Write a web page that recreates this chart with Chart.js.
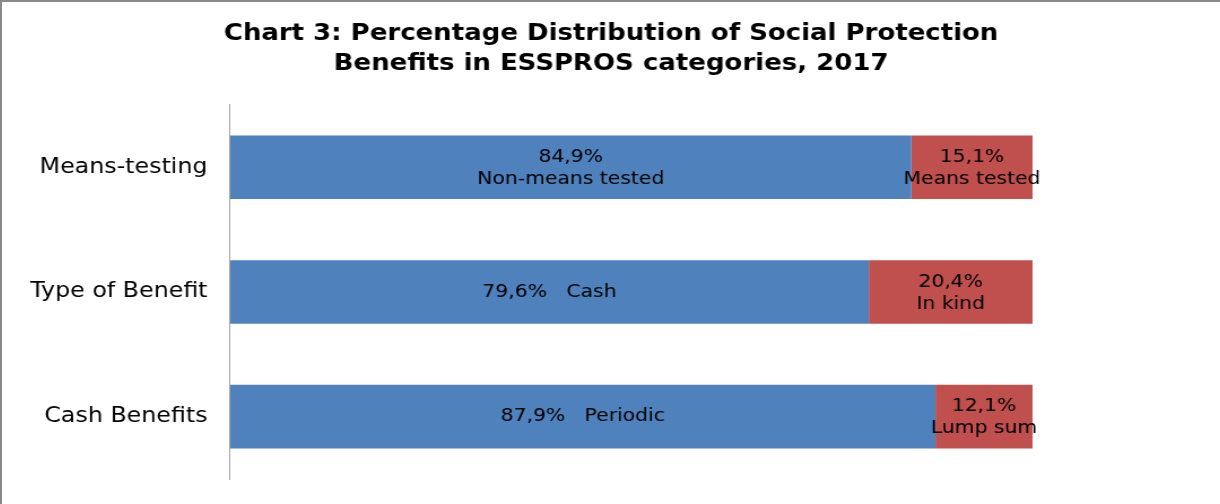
<!DOCTYPE html>
<html>
<head>
<meta charset="utf-8">
<script src="https://cdn.jsdelivr.net/npm/chart.js@4"></script>
<style>
  html, body { margin: 0; padding: 0; background: #fff; overflow: hidden; }
  #wrap {
    position: absolute; left: 0; top: 0;
    width: 1218px; height: 502px;
    border-left: 2px solid #8a8a8a;
    border-top: 2px solid #8a8a8a;
    overflow: hidden;
  }
  /* the chart is laid out a bit narrower and then widened, like the exported sheet */
  #chart {
    transform: scaleX(1.13);
    transform-origin: 0 0;
  }
</style>
</head>
<body>
<div id="wrap"><canvas id="chart" width="1078" height="502"></canvas></div>
<script>
// ESSPROS breakdowns, shares in percent
const categories = ['Means-testing', 'Type of Benefit', 'Cash Benefits'];
const firstShare = [84.9, 79.6, 87.9];
const secondShare = [15.1, 20.4, 12.1];
const firstNames = ['Non-means tested', 'Cash', 'Periodic'];
const secondNames = ['Means tested', 'In kind', 'Lump sum'];
// labels that sit on one line next to the value instead of below it
const firstInline = [false, true, true];
const secondInline = [false, false, false];

const fmt = v => v.toFixed(1).replace('.', ',') + '%';

// draws "value + name" inside every segment
const segmentLabels = {
  id: 'segmentLabels',
  afterDatasetsDraw(chart) {
    const ctx = chart.ctx;
    ctx.save();
    ctx.fillStyle = '#000';
    ctx.font = '18px "DejaVu Sans"';
    ctx.textAlign = 'center';
    ctx.textBaseline = 'middle';
    chart.data.datasets.forEach((ds, di) => {
      const meta = chart.getDatasetMeta(di);
      meta.data.forEach((bar, i) => {
        const p = bar.getCenterPoint();
        const val = fmt(ds.data[i]);
        const name = ds.names[i];
        if (ds.inline[i]) {
          ctx.fillText(val + '   ' + name, p.x, p.y);
        } else {
          ctx.fillText(val, p.x, p.y - 10);
          ctx.fillText(name, p.x, p.y + 12);
        }
      });
    });
    ctx.restore();
  }
};

// keep the title centred on the whole canvas, not on the padded area
const centreTitle = {
  id: 'centreTitle',
  afterLayout(chart) {
    const t = chart.titleBlock;
    if (t) {
      t.left = 0;
      t.right = chart.width;
      t.width = chart.width;
    }
  }
};

new Chart(document.getElementById('chart'), {
  type: 'bar',
  data: {
    labels: categories,
    datasets: [
      {
        label: 'first',
        data: firstShare,
        names: firstNames,
        inline: firstInline,
        backgroundColor: '#4f81bd',
        categoryPercentage: 1,
        barPercentage: 0.51
      },
      {
        label: 'second',
        data: secondShare,
        names: secondNames,
        inline: secondInline,
        backgroundColor: '#c0504d',
        categoryPercentage: 1,
        barPercentage: 0.51
      }
    ]
  },
  options: {
    indexAxis: 'y',
    responsive: false,
    animation: false,
    devicePixelRatio: 1,
    layout: { padding: { left: 5, right: 166, top: 0, bottom: 25 } },
    plugins: {
      legend: { display: false },
      tooltip: { enabled: false },
      title: {
        display: true,
        text: ['Chart 3: Percentage Distribution of Social Protection', 'Benefits in ESSPROS categories, 2017'],
        color: '#000',
        font: { family: '"DejaVu Sans"', size: 23, weight: 'bold', lineHeight: 1.31 },
        padding: { top: 16.5, bottom: 26.1 }
      }
    },
    scales: {
      x: {
        stacked: true,
        min: 0,
        max: 100,
        display: false
      },
      y: {
        stacked: true,
        grid: { display: false, drawTicks: false },
        border: { display: true, color: '#a6a6a6', width: 1 },
        ticks: {
          color: '#000',
          padding: 20,
          font: { family: '"DejaVu Sans"', size: 21 }
        },
        // the tick padding is only wanted sideways, not above/below the axis
        afterFit(scale) {
          scale.paddingTop = 0;
          scale.paddingBottom = 0;
        }
      }
    }
  },
  plugins: [segmentLabels, centreTitle]
});
</script>
</body>
</html>
